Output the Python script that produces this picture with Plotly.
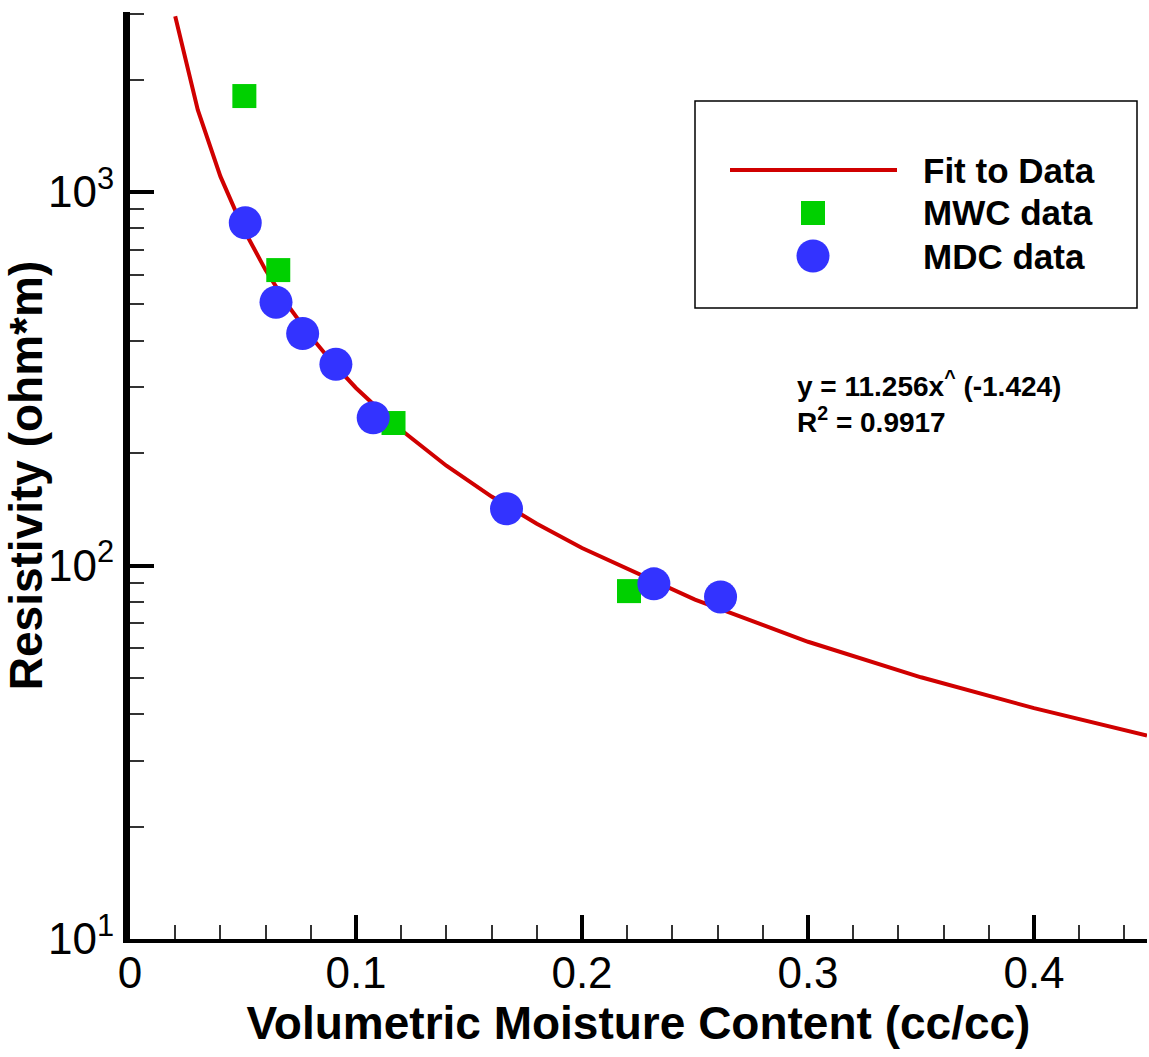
import plotly.graph_objects as go

# ---------------- data ----------------
fit_x = [0.02, 0.03, 0.04, 0.05, 0.06, 0.07, 0.08, 0.09, 0.10, 0.12, 0.14, 0.16, 0.18,
         0.20, 0.25, 0.30, 0.35, 0.40, 0.45]
fit_y = [2954, 1659, 1101, 801, 618, 496, 410, 347, 298.8, 230.5, 185.0, 153.0, 129.4,
         111.4, 81.0, 62.5, 50.2, 41.5, 35.06]

mwc_x = [0.0506, 0.0656, 0.1166, 0.2208]
mwc_y = [1807, 618, 240.7, 85.4]

mdc_x = [0.051, 0.0646, 0.0764, 0.0911, 0.1076, 0.1666, 0.2318, 0.2613]
mdc_y = [827, 507, 418, 345.6, 248.7, 141.9, 89.3, 82.4]

x_ticks = [0, 0.1, 0.2, 0.3, 0.4]
x_ticktext = ["0", "0.1", "0.2", "0.3", "0.4"]
x_minor = [0.02, 0.04, 0.06, 0.08, 0.12, 0.14, 0.16, 0.18, 0.22, 0.24, 0.26, 0.28,
           0.32, 0.34, 0.36, 0.38, 0.42, 0.44]
y_ticks = [10, 100, 1000]
y_ticktext = ["10<sup>1</sup>", "10<sup>2</sup>", "10<sup>3</sup>"]
y_minor = [20, 30, 40, 50, 60, 70, 80, 90, 200, 300, 400, 500, 600, 700, 800, 900, 2000, 3000]

legend_names = ["Fit to Data", "MWC data", "MDC data"]
eq_line1 = "y = 11.256x<sup>^</sup> (-1.424)"
eq_line2 = "R<sup>2</sup> = 0.9917"

RED = "#D00000"
GREEN = "#00D000"
BLUE = "#3333FF"
FONT = "Liberation Sans, Arial, sans-serif"

# ---------------- layout geometry ----------------
W, H = 1149, 1057
ML, MR, MT, MB = 130, 2, 12, 118
PW, PH = W - ML - MR, H - MT - MB


def px(X):
    return (X - ML) / PW


def py(Y):
    return (H - MB - Y) / PH


fig = go.Figure()
fig.add_trace(go.Scatter(x=fit_x, y=fit_y, mode="lines", name=legend_names[0],
                         line=dict(color=RED, width=4), showlegend=False))
fig.add_trace(go.Scatter(x=mwc_x, y=mwc_y, mode="markers", name=legend_names[1],
                         marker=dict(symbol="square", size=24, color=GREEN, line=dict(width=0)),
                         showlegend=False))
fig.add_trace(go.Scatter(x=mdc_x, y=mdc_y, mode="markers", name=legend_names[2],
                         marker=dict(symbol="circle", size=33, color=BLUE, line=dict(width=0)),
                         showlegend=False))

shapes = [
    # legend box
    dict(type="rect", xref="paper", yref="paper", x0=px(695), x1=px(1137), y0=py(308), y1=py(101),
         line=dict(color="black", width=1.5), fillcolor="rgba(0,0,0,0)"),
    # legend line sample
    dict(type="line", xref="paper", yref="paper", x0=px(730), x1=px(897), y0=py(170), y1=py(170),
         line=dict(color=RED, width=4)),
    # legend square
    dict(type="rect", xref="paper", yref="paper", x0=px(801), x1=px(825), y0=py(225), y1=py(201),
         line=dict(width=0), fillcolor=GREEN),
    # legend circle
    dict(type="circle", xref="paper", yref="paper", x0=px(796.5), x1=px(829.5), y0=py(272.5), y1=py(239.5),
         line=dict(width=0), fillcolor=BLUE),
]

annotations = []
for name, yy in zip(legend_names, [170, 213, 256]):
    annotations.append(dict(xref="paper", yref="paper", x=px(921), y=py(yy), text="<b>%s</b>" % name,
                            showarrow=False, xanchor="left", yanchor="middle",
                            font=dict(family=FONT, size=35, color="black")))
annotations.append(dict(xref="paper", yref="paper", x=px(795), y=py(384), text="<b>%s</b>" % eq_line1,
                        showarrow=False, xanchor="left", yanchor="middle",
                        font=dict(family=FONT, size=28, color="black")))
annotations.append(dict(xref="paper", yref="paper", x=px(795), y=py(420), text="<b>%s</b>" % eq_line2,
                        showarrow=False, xanchor="left", yanchor="middle",
                        font=dict(family=FONT, size=28, color="black")))

fig.update_layout(
    width=W, height=H,
    margin=dict(l=ML, r=MR, t=MT, b=MB, pad=0),
    paper_bgcolor="white", plot_bgcolor="white",
    showlegend=False,
    shapes=shapes,
    annotations=annotations,
    font=dict(family=FONT, color="black"),
    xaxis=dict(
        range=[0, 0.45], showgrid=False, zeroline=False,
        showline=True, linecolor="black", linewidth=4,
        tickmode="array", tickvals=x_ticks, ticktext=x_ticktext,
        ticks="inside", ticklen=24, tickwidth=4, tickcolor="black",
        ticklabelstandoff=-8,
        tickfont=dict(family=FONT, size=44, color="black"),
        minor=dict(tickvals=x_minor, ticks="inside", ticklen=14, tickwidth=1.5, tickcolor="#333333",
                   showgrid=False),
        title=dict(text="<b>Volumetric Moisture Content (cc/cc)</b>",
                   font=dict(family=FONT, size=46, color="black"), standoff=8),
    ),
    yaxis=dict(
        type="log", range=[1, 3.482], showgrid=False, zeroline=False,
        showline=True, linecolor="black", linewidth=7,
        tickmode="array", tickvals=y_ticks, ticktext=y_ticktext,
        ticks="inside", ticklen=24, tickwidth=4, tickcolor="black",
        tickfont=dict(family=FONT, size=44, color="black"),
        minor=dict(tickvals=y_minor, ticks="inside", ticklen=14, tickwidth=1.5, tickcolor="#333333",
                   showgrid=False),
        title=dict(text="<b>Resistivity (ohm*m)</b>",
                   font=dict(family=FONT, size=46, color="black"), standoff=10),
    ),
)

fig.write_html("out.html", config={"displayModeBar": False},
               post_script="document.body.style.margin='0';document.body.style.padding='0';")
